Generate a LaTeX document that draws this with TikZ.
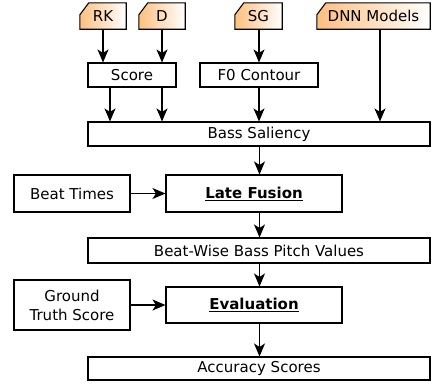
\documentclass[tikz,border=0pt]{standalone}
\usepackage{fontspec}
\setmainfont{DejaVu Sans}
\usetikzlibrary{arrows.meta,backgrounds}
\begin{document}
\begin{tikzpicture}[x=1pt,y=-1pt,
  txt/.style={font=\fontsize{15}{19}\selectfont},
  box/.style={txt, draw, line width=1.1pt, inner sep=0pt, align=center, fill=white},
  tag/.style={txt, inner sep=0pt, minimum height=26pt},
  arr/.style={-{Stealth[length=13pt,width=11pt,inset=3.5pt]}, line width=1.1pt}]
\useasboundingbox (0,0) rectangle (438,384);
% input tags
\node[tag, minimum width=46pt]  (rk)  at (103,16)   {RK};
\node[tag, minimum width=46pt]  (d)   at (162,16)   {D};
\node[tag, minimum width=47pt]  (sg)  at (258.5,16) {SG};
\node[tag, minimum width=113pt] (dnn) at (373.5,16) {DNN Models};
\begin{scope}[on background layer]
  \foreach \n in {rk,d,sg,dnn}{
    \draw[line width=1.1pt, left color=orange!50, right color=white]
      (\n.south west) -- ([yshift=-12pt]\n.north west) -- ([xshift=9pt]\n.north west)
      -- (\n.north east) -- (\n.south east) -- cycle;
  }
\end{scope}
% boxes
\node[box, minimum width=88pt,  minimum height=24pt] (score) at (132,75)    {Score};
\node[box, minimum width=118pt, minimum height=24pt] (f0)    at (259,75)    {F0 Contour};
\node[box, minimum width=342pt, minimum height=24pt] (bass)  at (259,134)   {Bass Saliency};
\node[box, minimum width=116pt, minimum height=37pt] (beat)  at (72,193.5)  {Beat Times};
\node[box, minimum width=176pt, minimum height=37pt] (late)  at (254,193.5) {\underline{\textbf{Late Fusion}}};
\node[box, minimum width=342pt, minimum height=25pt] (bw)    at (259,250.5) {Beat-Wise Bass Pitch Values};
\node[box, minimum width=116pt, minimum height=50pt] (gt)    at (72,305)    {Ground\\Truth Score};
\node[box, minimum width=176pt, minimum height=36pt] (eval)  at (254,305)   {\underline{\textbf{Evaluation}}};
\node[box, minimum width=342pt, minimum height=23pt] (acc)   at (259,368.5) {Accuracy Scores};
% connectors
\coordinate (c1) at (110,0);
\coordinate (cx) at (259.5,0);
\coordinate (cd) at (380,0);
\draw[arr] (rk.south) -- (rk.south |- score.north);
\draw[arr] (d.south) -- (d.south |- score.north);
\draw[arr] (sg.south -| f0.north) -- (f0.north);
\draw[arr] (c1 |- score.south) -- (c1 |- bass.north);
\draw[arr] (d.south |- score.south) -- (d.south |- bass.north);
\draw[arr] (f0.south) -- (f0.south |- bass.north);
\draw[arr] (cd |- dnn.south) -- (cd |- bass.north);
\draw[arr] (cx |- bass.south) -- (cx |- late.north);
\draw[arr] (beat.east) -- (late.west);
\draw[arr] (cx |- late.south) -- (cx |- bw.north);
\draw[arr] (cx |- bw.south) -- (cx |- eval.north);
\draw[arr] (gt.east) -- (eval.west);
\draw[arr] (cx |- eval.south) -- (cx |- acc.north);
\end{tikzpicture}
\end{document}
